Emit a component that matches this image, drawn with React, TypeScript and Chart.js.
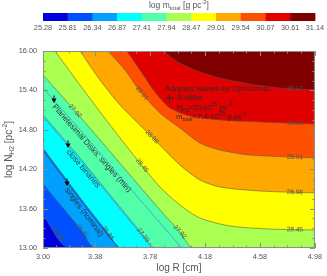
import React, { useEffect, useRef } from 'react';
import { Chart, registerables } from 'chart.js';

Chart.register(...registerables);

const FONT = '"Liberation Sans", Arial, sans-serif';

// axis ranges and tick labels
const xMin = 3.0;
const xMax = 4.98;
const yMin = 13.0;
const yMax = 16.0;
const xTickLabels = ['3.00', '3.38', '3.78', '4.18', '4.58', '4.98'];
const yTickLabels = ['13.00', '13.60', '14.20', '14.80', '15.40', '16.00'];

// colour bar
const colorbarLabels = ['25.28', '25.81', '26.34', '26.87', '27.41', '27.94', '28.47', '29.01', '29.54', '30.07', '30.61', '31.14'];
const bandColors = ['#0000dc', '#0050ff', '#00a0ff', '#00ffff', '#50ffa8', '#aaff50', '#ffff00', '#ffa800', '#ff5000', '#e00000', '#800000'];

// contour levels (log m_total) and their traced boundaries (log R, log N_H2)
const contourLevels = ['25.80', '26.33', '26.86', '27.39', '27.92', '28.45', '28.98', '29.51', '30.04', '30.57'];
const c2580x = [3.0, 3.189];
const c2580y = [13.503, 13.0];
const c2633x = [3.0, 3.284, 3.379];
const c2633y = [13.975, 13.259, 13.0];
const c2686x = [3.0, 3.284, 3.473, 3.561];
const c2686y = [14.523, 13.731, 13.228, 13.0];
const c2739x = [3.0, 3.269, 3.488, 3.728, 3.815];
const c2739y = [15.025, 14.371, 13.807, 13.198, 13.0];
const c2792x = [3.0, 3.233, 3.415, 3.633, 3.852, 3.997, 4.092];
const c2792y = [15.635, 15.086, 14.645, 14.112, 13.579, 13.244, 13.0];
const c2845x = [3.087, 3.269, 3.488, 3.706, 3.852, 3.997, 4.143, 4.361, 4.652, 4.98];
const c2845y = [16.0, 15.482, 14.873, 14.294, 13.929, 13.655, 13.457, 13.335, 13.289, 13.274];
const c2898x = [3.269, 3.415, 3.561, 3.779, 3.997, 4.143, 4.288, 4.58, 4.98];
const c2898y = [16.0, 15.558, 15.178, 14.721, 14.264, 14.036, 13.929, 13.868, 13.838];
const c2951x = [3.473, 3.597, 3.706, 3.852, 3.997, 4.143, 4.288, 4.507, 4.98];
const c2951y = [16.0, 15.711, 15.391, 15.056, 14.827, 14.599, 14.492, 14.416, 14.371];
const c3004x = [3.611, 3.706, 3.815, 3.924, 4.07, 4.288, 4.58, 4.98];
const c3004y = [16.0, 15.711, 15.376, 15.132, 15.01, 14.949, 14.919, 14.888];
const c3057x = [3.874, 3.983, 4.143, 4.288, 4.507, 4.725, 4.98];
const c3057y = [16.0, 15.832, 15.68, 15.589, 15.497, 15.437, 15.406];

const contourXs = [c2580x, c2633x, c2686x, c2739x, c2792x, c2845x, c2898x, c2951x, c3004x, c3057x];
const contourYs = [c2580y, c2633y, c2686y, c2739y, c2792y, c2845y, c2898y, c2951y, c3004y, c3057y];

// contour label placement (level index, log R where the label sits)
const contourLabelLevel = [0, 1, 2, 3, 4, 4, 5, 6, 7, 5, 6, 7, 8, 9];
const contourLabelX = [3.109, 3.284, 3.473, 3.728, 3.233, 3.997, 3.721, 3.793, 3.721, 4.834, 4.834, 4.834, 4.834, 4.834];

// overlay mass lines
const overlayNames = ['Planetesimal Disks: singles (min)', 'close binaries', 'singles (nominal)'];
const overlayColors = ['#4aa8d8', '#4aa8d8', '#1c3cb4'];
const planetX = [3.0, 3.233, 3.415, 3.633, 3.852, 4.012];
const planetY = [15.437, 14.888, 14.447, 13.914, 13.381, 13.0];
const binaryX = [3.0, 3.269, 3.488, 3.728, 3.793];
const binaryY = [14.995, 14.34, 13.777, 13.168, 13.0];
const nominalX = [3.0, 3.284, 3.473, 3.553];
const nominalY = [14.492, 13.701, 13.198, 13.0];
const overlayXs = [planetX, binaryX, nominalX];
const overlayYs = [planetY, binaryY, nominalY];
const arrowX = [3.08, 3.182, 3.175];
const arrowY = [15.254, 14.569, 13.99];

type Part = [string, 'n' | 'b' | 'p'];

function partsWidth(ctx: CanvasRenderingContext2D, parts: Part[], size: number) {
  let w = 0;
  for (const [t, m] of parts) {
    ctx.font = `${m === 'n' ? size : size * 0.68}px ${FONT}`;
    w += ctx.measureText(t).width;
  }
  return w;
}

function drawRich(ctx: CanvasRenderingContext2D, parts: Part[], x: number, y: number, size: number, align: 'left' | 'center', color: string) {
  const w = partsWidth(ctx, parts, size);
  let cx = align === 'center' ? x - w / 2 : x;
  ctx.fillStyle = color;
  ctx.textAlign = 'left';
  ctx.textBaseline = 'middle';
  for (const [t, m] of parts) {
    const s = m === 'n' ? size : size * 0.68;
    ctx.font = `${s}px ${FONT}`;
    const dy = m === 'b' ? size * 0.3 : m === 'p' ? -size * 0.4 : 0;
    ctx.fillText(t, cx, y + dy);
    cx += ctx.measureText(t).width;
  }
}

function toPoints(xs: number[], ys: number[]) {
  return xs.map((x, i) => ({ x, y: ys[i] }));
}

function withCorner(xs: number[], ys: number[]) {
  const pts = toPoints(xs, ys);
  const last = pts[pts.length - 1];
  if (last.y <= yMin && last.x < xMax) pts.push({ x: xMax, y: yMin });
  return pts;
}

function linePixelAt(chart: any, xs: number[], ys: number[], xv: number) {
  const sx = chart.scales.x;
  const sy = chart.scales.y;
  const px = xs.map((v) => sx.getPixelForValue(v));
  const py = ys.map((v) => sy.getPixelForValue(v));
  const tx = sx.getPixelForValue(xv);
  let j = 0;
  while (j < px.length - 2 && tx > px[j + 1]) j++;
  const t = (tx - px[j]) / (px[j + 1] - px[j]);
  const y = py[j] + t * (py[j + 1] - py[j]);
  const ang = Math.atan2(py[j + 1] - py[j], px[j + 1] - px[j]);
  return { x: tx, y, ang };
}

const decorPlugin = {
  id: 'decor',
  beforeDatasetsDraw(chart: any) {
    const { ctx, chartArea: a } = chart;
    ctx.save();
    ctx.fillStyle = bandColors[0];
    ctx.fillRect(a.left, a.top, a.right - a.left, a.bottom - a.top);
    ctx.restore();
  },
  afterDatasetsDraw(chart: any) {
    const { ctx, chartArea: a } = chart;
    const sx = chart.scales.x;
    const sy = chart.scales.y;
    ctx.save();
    ctx.beginPath();
    ctx.rect(a.left, a.top, a.right - a.left, a.bottom - a.top);
    ctx.clip();

    // contour labels
    contourLabelLevel.forEach((lev, i) => {
      const p = linePixelAt(chart, contourXs[lev], contourYs[lev], contourLabelX[i]);
      ctx.save();
      ctx.translate(p.x, p.y);
      ctx.rotate(p.ang);
      ctx.font = `6.5px ${FONT}`;
      ctx.fillStyle = '#505050';
      ctx.textAlign = 'center';
      ctx.textBaseline = 'middle';
      ctx.fillText(contourLevels[lev], 0, 0);
      ctx.restore();
    });

    // arrow stems and overlay texts
    arrowX.forEach((xv, i) => {
      const px = sx.getPixelForValue(xv);
      const py = sy.getPixelForValue(arrowY[i]);
      ctx.strokeStyle = '#000';
      ctx.lineWidth = 1;
      ctx.beginPath();
      ctx.moveTo(px, py - 4.5);
      ctx.lineTo(px, py - 1.5);
      ctx.stroke();
      const p = linePixelAt(chart, overlayXs[i], overlayYs[i], xv);
      ctx.save();
      ctx.translate(px, py);
      ctx.rotate(p.ang);
      ctx.font = `7.8px ${FONT}`;
      ctx.fillStyle = '#303030';
      ctx.textAlign = 'left';
      ctx.textBaseline = 'middle';
      ctx.fillText(overlayNames[i], 4, 4);
      ctx.restore();
    });

    // legend block for adopted values
    const lx = a.left + 122;
    const ly = a.top + 38;
    const col = '#2a2a2a';
    drawRich(ctx, [['Adopted values for Ophiuchus', 'n']], lx, ly, 7.8, 'left', col);
    ctx.strokeStyle = col;
    ctx.lineWidth = 1;
    ctx.beginPath();
    ctx.moveTo(lx + 1, ly + 9);
    ctx.lineTo(lx + 8, ly + 9);
    ctx.moveTo(lx + 4.5, ly + 5.5);
    ctx.lineTo(lx + 4.5, ly + 12.5);
    ctx.stroke();
    drawRich(ctx, [['R=80m', 'n']], lx + 12, ly + 9, 7.8, 'left', col);
    drawRich(ctx, [['N', 'n'], ['H2', 'b'], ['=2\u00d710', 'n'], ['15', 'p'], [' pc', 'n'], ['-2', 'p']], lx + 12, ly + 19, 7.8, 'left', col);
    drawRich(ctx, [['m', 'n'], ['total', 'b'], ['=7.4\u00b710', 'n'], ['28', 'p'], [' g pc', 'n'], ['-2', 'p']], lx + 11, ly + 28, 7.8, 'left', col);
    ctx.restore();

    // frame and inward ticks
    ctx.save();
    ctx.strokeStyle = '#8c8c8c';
    ctx.lineWidth = 1;
    ctx.strokeRect(a.left + 0.5, a.top + 0.5, a.right - a.left - 1, a.bottom - a.top - 1);
    const xv = xTickLabels.map(parseFloat);
    const yv = yTickLabels.map(parseFloat);
    ctx.beginPath();
    xv.forEach((v, i) => {
      const list = [v];
      if (i < xv.length - 1) for (let k = 1; k < 4; k++) list.push(v + (k * (xv[i + 1] - v)) / 4);
      list.forEach((t, m) => {
        const len = m === 0 ? 5 : 2.5;
        const p = Math.round(sx.getPixelForValue(t)) + 0.5;
        ctx.moveTo(p, a.bottom);
        ctx.lineTo(p, a.bottom - len);
        ctx.moveTo(p, a.top);
        ctx.lineTo(p, a.top + len);
      });
    });
    yv.forEach((v, i) => {
      const list = [v];
      if (i < yv.length - 1) for (let k = 1; k < 4; k++) list.push(v + (k * (yv[i + 1] - v)) / 4);
      list.forEach((t, m) => {
        const len = m === 0 ? 5 : 2.5;
        const p = Math.round(sy.getPixelForValue(t)) + 0.5;
        ctx.moveTo(a.left, p);
        ctx.lineTo(a.left + len, p);
        ctx.moveTo(a.right, p);
        ctx.lineTo(a.right - len, p);
      });
    });
    ctx.stroke();
    ctx.restore();
  },
  afterDraw(chart: any) {
    const { ctx, chartArea: a } = chart;
    ctx.save();
    // colour bar
    const n = bandColors.length;
    const w = (a.right - a.left) / n;
    bandColors.forEach((c, i) => {
      ctx.fillStyle = c;
      ctx.fillRect(a.left + i * w, 13, w + 0.5, 8);
    });
    ctx.font = `7.3px ${FONT}`;
    ctx.fillStyle = '#555';
    ctx.textAlign = 'center';
    ctx.textBaseline = 'middle';
    colorbarLabels.forEach((l, i) => ctx.fillText(l, a.left + i * w, 28));
    const cx = (a.left + a.right) / 2;
    drawRich(ctx, [['log m', 'n'], ['total', 'b'], [' [g pc', 'n'], ['-2', 'p'], [']', 'n']], cx, 5.5, 8.5, 'center', '#555');
    // axis titles
    drawRich(ctx, [['log R [cm]', 'n']], cx, 268, 10, 'center', '#555');
    ctx.save();
    ctx.translate(9, (a.top + a.bottom) / 2);
    ctx.rotate(-Math.PI / 2);
    drawRich(ctx, [['log N', 'n'], ['H2', 'b'], [' [pc', 'n'], ['-2', 'p'], [']', 'n']], 0, 0, 10, 'center', '#555');
    ctx.restore();
    ctx.restore();
  },
};

export default function App() {
  const ref = useRef<HTMLCanvasElement | null>(null);
  useEffect(() => {
    if (!ref.current) return;
    const datasets: any[] = [];
    contourLevels.forEach((lev, k) => {
      datasets.push({
        label: lev,
        data: withCorner(contourXs[k], contourYs[k]),
        fill: 'end',
        backgroundColor: bandColors[k + 1],
        borderColor: 'rgba(80,80,80,0.55)',
        borderWidth: 1,
        pointRadius: 0,
        tension: 0.25,
        order: 100 - k,
      });
    });
    overlayNames.forEach((name, i) => {
      datasets.push({
        label: name,
        data: toPoints(overlayXs[i], overlayYs[i]),
        fill: false,
        borderColor: overlayColors[i],
        borderWidth: 1,
        pointRadius: 0,
        tension: 0.25,
        order: 20 + i,
      });
    });
    datasets.push({
      label: 'arrows',
      data: toPoints(arrowX, arrowY),
      showLine: false,
      pointStyle: 'triangle',
      rotation: 180,
      pointRadius: 3,
      backgroundColor: '#000',
      borderColor: '#000',
      borderWidth: 0,
      order: 1,
    });

    const chart = new Chart(ref.current, {
      type: 'line',
      data: { datasets },
      options: {
        animation: false,
        responsive: false,
        devicePixelRatio: 1,
        events: [],
        layout: { padding: { top: 51, right: 12, left: 0, bottom: 0 } },
        plugins: { legend: { display: false }, tooltip: { enabled: false } },
        scales: {
          x: {
            type: 'linear',
            min: xMin,
            max: xMax,
            afterBuildTicks: (s: any) => {
              s.ticks = xTickLabels.map((l) => ({ value: parseFloat(l) }));
            },
            afterFit: (s: any) => {
              s.height = 28;
            },
            ticks: {
              callback: (_v: any, i: number) => xTickLabels[i],
              font: { family: FONT, size: 7.3 },
              color: '#555',
              padding: 5,
              maxRotation: 0,
              autoSkip: false,
            },
            grid: { display: false, drawTicks: false },
            border: { display: false },
          },
          y: {
            type: 'linear',
            min: yMin,
            max: yMax,
            afterBuildTicks: (s: any) => {
              s.ticks = yTickLabels.map((l) => ({ value: parseFloat(l) }));
            },
            afterFit: (s: any) => {
              s.width = 43;
            },
            ticks: {
              callback: (_v: any, i: number) => yTickLabels[i],
              font: { family: FONT, size: 7.3 },
              color: '#555',
              padding: 6,
              autoSkip: false,
            },
            grid: { display: false, drawTicks: false },
            border: { display: false },
          },
        },
      },
      plugins: [decorPlugin],
    } as any);
    return () => chart.destroy();
  }, []);

  return (
    <div style={{ position: 'absolute', left: 0, top: 0, width: 327, height: 276, background: '#fff' }}>
      <canvas ref={ref} width={327} height={276} style={{ display: 'block', width: 327, height: 276 }} />
    </div>
  );
}
